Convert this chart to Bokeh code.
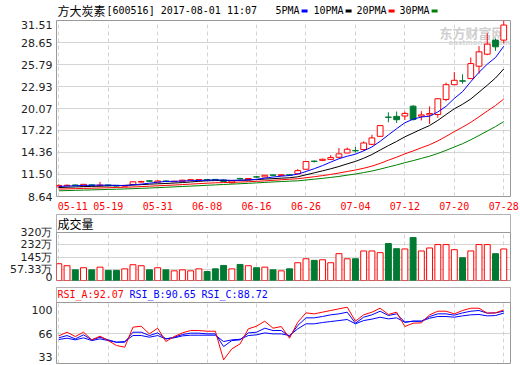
from bokeh.plotting import figure
from bokeh.models import Range1d, FixedTicker, Label, Span, ColumnDataSource, BoxAnnotation, NumeralTickFormatter
from bokeh.layouts import column
from bokeh.embed import file_html
from bokeh.resources import INLINE
from bokeh.core.properties import value

dates = ["05-11", "05-12", "05-15", "05-16", "05-17", "05-18", "05-19", "05-22", "05-23", "05-24",
         "05-25", "05-26", "05-31", "06-01", "06-02", "06-05", "06-06", "06-07", "06-08", "06-09",
         "06-12", "06-13", "06-14", "06-15", "06-16", "06-19", "06-20", "06-21", "06-22", "06-23",
         "06-26", "06-27", "06-28", "06-29", "06-30", "07-03", "07-04", "07-05", "07-06", "07-07",
         "07-10", "07-11", "07-12", "07-13", "07-14", "07-17", "07-18", "07-19", "07-20", "07-21",
         "07-24", "07-25", "07-26", "07-27", "07-28"]

opens = [9.88, 10.05, 10.14, 9.98, 10.15, 10.04, 10.14, 10.08, 9.98, 10.20,
         10.52, 10.68, 10.50, 10.66, 10.56, 10.62, 10.76, 10.78, 10.84, 10.86,
         10.78, 10.42, 10.98, 10.82, 11.20, 11.18, 11.44, 11.38, 11.46, 11.60,
         12.18, 13.24, 13.34, 13.46, 13.74, 14.30, 14.62, 14.74, 15.42, 16.46,
         18.96, 19.05, 19.10, 20.38, 19.08, 19.24, 19.29, 21.25, 23.17, 23.68,
         23.96, 25.57, 27.13, 28.96, 28.96]
closes = [10.08, 10.10, 10.08, 10.22, 10.06, 10.12, 10.05, 10.00, 10.08, 10.55,
          10.58, 10.62, 10.66, 10.58, 10.62, 10.76, 10.82, 10.84, 10.80, 10.80,
          10.60, 10.66, 10.94, 10.97, 11.16, 11.40, 11.40, 11.46, 11.42, 12.00,
          13.18, 13.19, 13.48, 13.70, 14.18, 14.78, 14.57, 15.60, 16.25, 17.85,
          18.92, 18.62, 19.44, 18.64, 19.24, 19.42, 21.34, 23.17, 23.74, 23.62,
          25.91, 27.44, 28.44, 28.09, 30.92]
highs = [10.22, 10.20, 10.18, 10.26, 10.20, 10.54, 10.18, 10.12, 10.14, 10.62,
         10.68, 10.75, 10.72, 10.72, 10.68, 10.82, 10.90, 10.92, 10.90, 10.92,
         10.84, 10.70, 11.08, 11.02, 11.30, 11.44, 11.52, 11.50, 11.52, 12.20,
         13.20, 13.32, 13.55, 14.02, 14.94, 15.00, 15.08, 15.80, 16.66, 17.92,
         19.58, 19.68, 19.68, 20.52, 19.72, 20.34, 21.40, 23.44, 24.82, 24.52,
         26.70, 28.18, 29.84, 29.18, 31.51]
lows = [9.80, 9.96, 10.00, 9.95, 10.00, 10.00, 10.00, 9.92, 9.92, 10.15,
        10.45, 10.55, 10.45, 10.52, 10.50, 10.58, 10.70, 10.72, 10.70, 10.74,
        10.52, 10.34, 10.85, 10.78, 11.05, 11.14, 11.32, 11.30, 11.34, 11.55,
        12.12, 13.05, 13.25, 13.40, 13.70, 14.25, 14.35, 14.60, 15.30, 16.40,
        18.28, 18.20, 18.58, 18.50, 18.52, 18.07, 18.86, 21.03, 23.08, 23.30,
        23.90, 24.61, 27.00, 27.57, 28.53]

ma5 = [9.95, 10.00, 10.03, 10.08, 10.11, 10.12, 10.11, 10.09, 10.06, 10.16,
       10.25, 10.37, 10.50, 10.60, 10.61, 10.65, 10.69, 10.72, 10.77, 10.80,
       10.77, 10.74, 10.76, 10.79, 10.87, 11.03, 11.17, 11.28, 11.37, 11.54,
       11.89, 12.25, 12.65, 13.11, 13.55, 13.87, 14.14, 14.57, 15.08, 15.81,
       16.64, 17.45, 18.22, 18.69, 18.97, 19.07, 19.62, 20.36, 21.38, 22.26,
       23.56, 24.78, 25.83, 26.70, 28.16]
ma10 = [9.80, 9.84, 9.88, 9.92, 9.95, 9.98, 10.02, 10.05, 10.08, 10.13,
        10.18, 10.24, 10.29, 10.33, 10.39, 10.45, 10.53, 10.61, 10.68, 10.71,
        10.71, 10.71, 10.74, 10.78, 10.84, 10.90, 10.96, 11.02, 11.08, 11.20,
        11.46, 11.71, 11.97, 12.24, 12.54, 12.88, 13.20, 13.61, 14.09, 14.68,
        15.25, 15.80, 16.39, 16.89, 17.39, 17.86, 18.53, 19.29, 20.04, 20.62,
        21.31, 22.20, 23.10, 24.04, 25.21]
ma20 = [9.60, 9.63, 9.66, 9.69, 9.72, 9.75, 9.78, 9.81, 9.84, 9.88,
        9.93, 9.98, 10.03, 10.08, 10.13, 10.19, 10.25, 10.31, 10.37, 10.42,
        10.45, 10.48, 10.52, 10.56, 10.61, 10.67, 10.74, 10.82, 10.88, 10.95,
        11.08, 11.21, 11.35, 11.51, 11.69, 11.89, 12.08, 12.31, 12.59, 12.94,
        13.36, 13.75, 14.18, 14.56, 14.97, 15.37, 15.86, 16.45, 17.07, 17.65,
        18.28, 19.00, 19.74, 20.46, 21.30]
ma30 = [9.38, 9.41, 9.44, 9.47, 9.50, 9.53, 9.56, 9.59, 9.62, 9.66,
        9.70, 9.74, 9.79, 9.84, 9.89, 9.94, 9.99, 10.04, 10.10, 10.15,
        10.20, 10.25, 10.30, 10.35, 10.41, 10.47, 10.53, 10.58, 10.63, 10.68,
        10.78, 10.89, 11.00, 11.12, 11.25, 11.41, 11.56, 11.75, 11.95, 12.20,
        12.47, 12.74, 13.03, 13.30, 13.59, 13.88, 14.23, 14.64, 15.07, 15.50,
        16.01, 16.57, 17.15, 17.72, 18.38]

# volume in 万 shares
volumes = [100, 86, 57, 72, 57, 76, 53, 53, 64, 93,
           86, 57, 72, 57, 50, 57, 50, 64, 45, 64,
           88, 64, 95, 86, 72, 76, 57, 50, 64, 107,
           135, 124, 128, 107, 171, 135, 135, 190, 190, 178,
           242, 206, 204, 284, 190, 211, 235, 235, 199, 142,
           190, 235, 235, 171, 204]

rsi_a = [63.1, 68.4, 62.2, 68.4, 57.4, 62.7, 56.4, 49.3, 46.9, 75.6,
         77.0, 66.0, 74.1, 55.0, 62.2, 67.4, 70.8, 70.8, 69.8, 69.8,
         28.7, 44.5, 51.6, 73.2, 77.0, 84.2, 74.1, 76.5, 59.8, 82.7,
         96.1, 94.7, 97.1, 99.5, 101.9, 104.3, 84.2, 93.3, 97.1, 102.8,
         93.8, 97.1, 76.5, 81.3, 81.8, 93.3, 98.5, 98.5, 94.7, 99.5,
         102.8, 102.8, 95.7, 96.1, 100.4]
rsi_b = [60.3, 63.6, 58.8, 64.6, 57.4, 61.2, 57.4, 54.0, 54.0, 68.4,
         68.4, 63.6, 67.4, 58.8, 61.2, 65.0, 67.0, 67.0, 66.0, 66.0,
         47.8, 56.4, 57.4, 67.4, 68.4, 74.1, 70.8, 70.8, 62.2, 78.0,
         89.0, 89.0, 90.9, 93.3, 94.7, 97.1, 81.3, 89.9, 93.3, 98.5,
         92.3, 94.7, 82.7, 84.2, 84.2, 90.9, 94.7, 94.7, 92.8, 96.1,
         98.5, 99.5, 95.7, 96.1, 98.5]
rsi_c = [57.9, 59.8, 57.4, 60.3, 56.4, 58.8, 56.4, 54.0, 55.0, 63.6,
         63.6, 61.2, 63.6, 58.8, 60.3, 63.1, 64.1, 64.1, 64.1, 64.1,
         55.0, 57.4, 58.3, 63.6, 64.6, 67.4, 66.0, 66.0, 63.6, 73.2,
         80.4, 80.4, 82.3, 83.7, 85.1, 86.6, 80.4, 85.1, 87.1, 89.9,
         87.5, 89.0, 82.7, 84.2, 84.2, 88.5, 90.9, 90.9, 89.9, 91.8,
         93.3, 93.8, 91.8, 92.3, 95.7]

price_ticks = [8.64, 11.50, 14.36, 17.22, 20.07, 22.93, 25.79, 28.65, 31.51]
vol_ticks = [0, 57.33, 145, 232, 320]
vol_tick_labels = ["0", "57.33万", "145万", "232万", "320万"]
rsi_ticks = [33, 66, 100]
ma_names = ["5PMA", "10PMA", "20PMA", "30PMA"]
ma_colors = ["#0000ff", "#000000", "#ff0000", "#008000"]

RED = "#ff0000"
GREEN = "#007a33"
GRID = "#d4d4d4"
FRAME = "#999999"
MONO = "DejaVu Sans Mono"
SANS = "DejaVu Sans"
CJK = "Noto Sans CJK SC"

N = len(dates)
idx = list(range(N))
grid_idx = idx[::6]
up = [c >= o for o, c in zip(opens, closes)]
src = ColumnDataSource(dict(
    x=idx, h=highs, l=lows,
    top=[max(o, c) for o, c in zip(opens, closes)],
    bot=[min(o, c) for o, c in zip(opens, closes)],
    col=[RED if u else GREEN for u in up],
    fill=["#ffffff" if u else GREEN for u in up],
    vol=volumes,
))

xr = Range1d(-0.28, 54.82)
W = 520
BL, BR = 56, 10


def style(p):
    p.outline_line_color = FRAME
    p.outline_line_width = 1
    p.background_fill_color = "white"
    p.border_fill_color = "white"
    for ax in p.yaxis:
        ax.axis_line_color = None
        ax.major_tick_line_color = None
        ax.minor_tick_line_color = None
        ax.major_tick_out = 0
        ax.major_tick_in = 0
        ax.major_label_standoff = 4
        ax.major_label_text_font = SANS
        ax.major_label_text_font_size = "11px"
        ax.major_label_text_color = "#222222"
    p.xgrid.ticker = FixedTicker(ticks=grid_idx)
    p.xgrid.grid_line_color = GRID
    p.xgrid.grid_line_dash = "4 3"


# ---------------- header row (title + MA legend) ----------------
# frame spans page x 56..510 (aligned with the panels below), so data x == page x
p0 = figure(width=W, height=20, x_range=Range1d(BL, W - BR), y_range=Range1d(0, 20),
            output_backend="svg", toolbar_location=None,
            x_axis_location=None, y_axis_location=None,
            min_border_left=BL, min_border_right=BR, min_border_top=0, min_border_bottom=0)
p0.outline_line_color = None
p0.xgrid.visible = False
p0.ygrid.visible = False
p0.text(x=[57], y=[10], text=["方大炭素"], text_font=value(CJK), text_font_size="12px",
        text_baseline="middle", text_align="left", text_color="#000000")
leg_x = [275, 313, 356, 399]
p0.text(x=[106] + leg_x, y=[10] * 5, text=["[600516] 2017-08-01 11:07"] + ma_names,
        text_font=value(MONO), text_font_size="10px", text_baseline="middle",
        text_align="left", text_color="#000000")
mk_x = [x + len(n) * 6.02 + 2 for x, n in zip(leg_x, ma_names)]
p0.quad(left=mk_x, right=[m + 6 for m in mk_x], bottom=[8] * 4, top=[11] * 4,
        fill_color=ma_colors, line_color=None)

# ---------------- main price panel ----------------
p1 = figure(width=W, height=193, x_range=xr, y_range=Range1d(8.64, 31.51),
            output_backend="svg", toolbar_location=None,
            min_border_left=BL, min_border_right=BR, min_border_top=0, min_border_bottom=17)
style(p1)
p1.yaxis.ticker = FixedTicker(ticks=price_ticks)
p1.yaxis.formatter = NumeralTickFormatter(format="0.00")
p1.ygrid.ticker = FixedTicker(ticks=price_ticks)
p1.ygrid.grid_line_color = GRID
xa = p1.xaxis[0]
label_pos = [1.7] + grid_idx[1:]
xa.ticker = FixedTicker(ticks=label_pos)
xa.major_label_overrides = {pos: dates[i] for pos, i in zip(label_pos, grid_idx)}
xa.axis_line_color = None
xa.major_tick_line_color = None
xa.minor_tick_line_color = None
xa.major_tick_out = 0
xa.major_tick_in = 0
xa.major_label_standoff = 5
xa.major_label_text_font = MONO
xa.major_label_text_font_size = "10px"
xa.major_label_text_color = RED

# watermark (behind the candles); frame is 176 px tall, y measured up from its bottom
p1.add_layout(Label(x=383, y=164, x_units="screen", y_units="screen", text="东方财富网",
                    text_font=CJK, text_font_size="13px", text_font_style="bold",
                    text_baseline="middle", text_color="#cfcfcf", level="underlay"))
p1.add_layout(Label(x=392, y=154, x_units="screen", y_units="screen", text="eastmoney.com",
                    text_font=SANS, text_font_size="7px", text_font_style="bold",
                    text_baseline="middle", text_color="#d6d6d6", level="underlay"))

p1.segment(x0="x", y0="l", x1="x", y1="h", line_color="col", line_width=1, source=src)
p1.vbar(x="x", width=0.7, top="top", bottom="bot", fill_color="fill", line_color="col",
        line_width=1, source=src)
for ma, colr in zip([ma30, ma20, ma10, ma5], ma_colors[::-1]):
    p1.line(idx, ma, line_color=colr, line_width=1)

# ---------------- volume panel ----------------
p2 = figure(width=W, height=70, x_range=xr, y_range=Range1d(-18, 446.75),
            output_backend="svg", toolbar_location=None, x_axis_location=None,
            min_border_left=BL, min_border_right=BR, min_border_top=1, min_border_bottom=3)
style(p2)
p2.yaxis.ticker = FixedTicker(ticks=vol_ticks)
p2.yaxis.major_label_overrides = dict(zip(vol_ticks, vol_tick_labels))
p2.ygrid.ticker = FixedTicker(ticks=vol_ticks[1:4])
p2.ygrid.grid_line_color = GRID
p2.vbar(x="x", width=0.72, top="vol", bottom=-18, fill_color="fill", line_color="col",
        line_width=1, source=src)
p2.add_layout(BoxAnnotation(bottom=320, fill_color="white", fill_alpha=1, line_color=None))
p2.add_layout(Span(location=320, dimension="width", line_color=FRAME, line_width=1))
p2.add_layout(Label(x=1, y=57, x_units="screen", y_units="screen", text="成交量",
                    text_font=CJK, text_font_size="12px", text_baseline="middle", text_color="#000"))

# ---------------- RSI panel ----------------
p3 = figure(width=W, height=81, x_range=xr, y_range=Range1d(23.5, 132.5),
            output_backend="svg", toolbar_location=None, x_axis_location=None,
            min_border_left=BL, min_border_right=BR, min_border_top=4, min_border_bottom=1)
style(p3)
p3.yaxis.ticker = FixedTicker(ticks=rsi_ticks)
p3.ygrid.ticker = FixedTicker(ticks=[66])
p3.ygrid.grid_line_color = GRID
p3.line(idx, rsi_c, line_color="#0000ff", line_width=1)
p3.line(idx, rsi_b, line_color="#0000ff", line_width=1)
p3.line(idx, rsi_a, line_color=RED, line_width=1)
p3.add_layout(BoxAnnotation(bottom=111, fill_color="white", fill_alpha=1, line_color=None))
p3.add_layout(Span(location=111, dimension="width", line_color=FRAME, line_width=1))
for txt, colr, xx in [("RSI_A:92.07", RED, 1), ("RSI_B:90.65", "#0000ff", 73),
                      ("RSI_C:88.72", "#0000ff", 145)]:
    p3.add_layout(Label(x=xx, y=69, x_units="screen", y_units="screen", text=txt,
                        text_font=MONO, text_font_size="10px", text_baseline="middle",
                        text_color=colr))

layout = column(p0, p1, p2, p3)
open("out.html", "w").write(file_html(layout, INLINE))
